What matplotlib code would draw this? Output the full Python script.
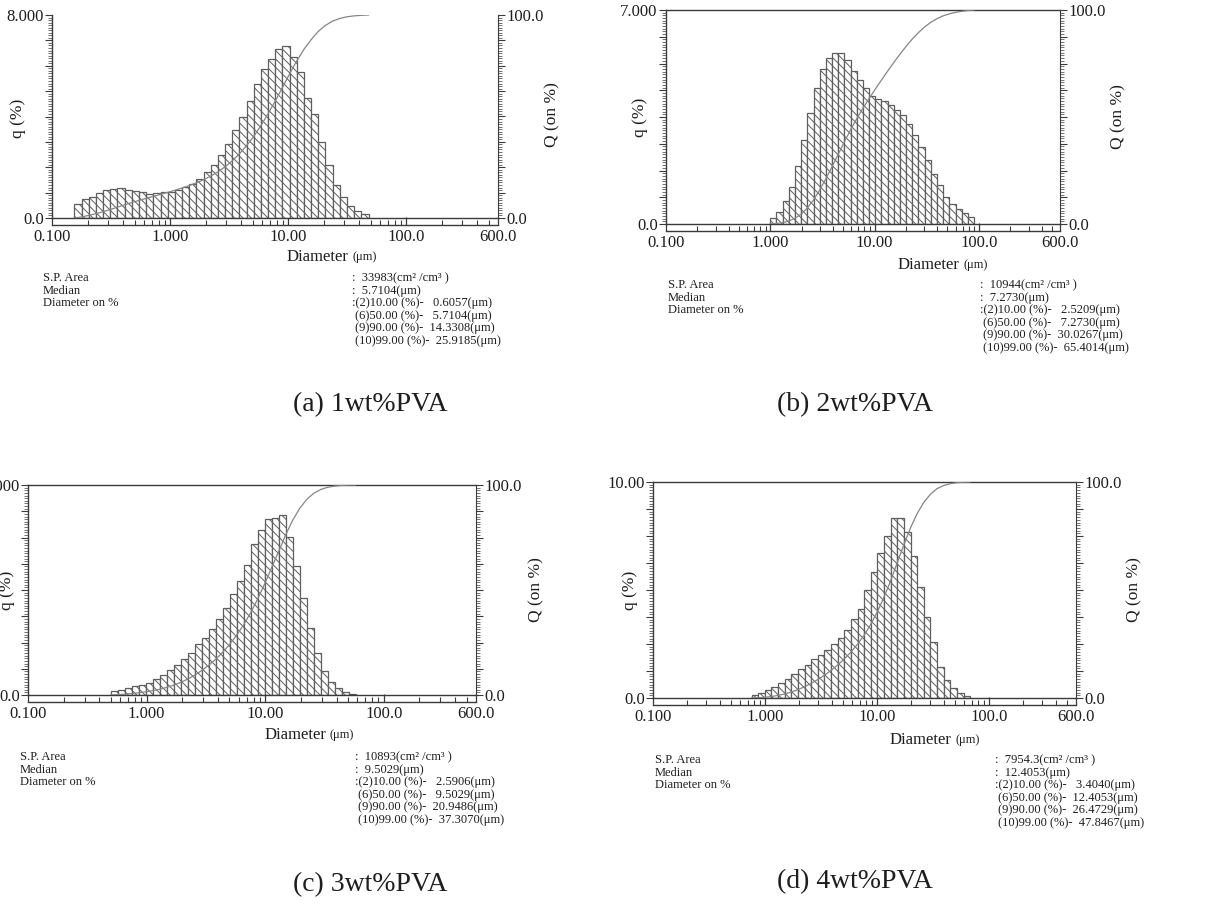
import numpy as np
import matplotlib.pyplot as plt
from matplotlib.ticker import FixedLocator, FixedFormatter, LogLocator, NullFormatter

plt.rcParams['font.family'] = ['Liberation Serif', 'DejaVu Serif']
plt.rcParams['hatch.linewidth'] = 0.7
plt.rcParams['hatch.color'] = '#5e5e5e'

W, H = 1209, 923

# q (%) of each size class, left to right
q_a = [0.55, 0.75, 0.83, 0.98, 1.09, 1.14, 1.18, 1.11, 1.05, 1.02, 0.96, 0.98, 1.01, 1.02,
       1.11, 1.21, 1.35, 1.53, 1.80, 2.10, 2.49, 2.92, 3.48, 4.00, 4.62, 5.27, 5.88, 6.26,
       6.65, 6.78, 6.36, 5.74, 4.72, 4.09, 2.98, 2.10, 1.31, 0.81, 0.46, 0.26, 0.16]
q_b = [0.21, 0.39, 0.74, 1.22, 1.91, 2.74, 3.63, 4.46, 5.08, 5.43, 5.59, 5.59, 5.37, 5.00,
       4.70, 4.46, 4.18, 4.08, 4.01, 3.90, 3.74, 3.55, 3.28, 2.92, 2.52, 2.09, 1.65, 1.27,
       0.89, 0.65, 0.48, 0.35, 0.24]
q_c = [0.17, 0.21, 0.29, 0.39, 0.43, 0.53, 0.67, 0.86, 1.07, 1.30, 1.55, 1.79, 2.19, 2.46,
       2.81, 3.24, 3.71, 4.31, 4.89, 5.57, 6.46, 7.07, 7.53, 7.57, 7.71, 6.79, 5.53, 4.14,
       2.86, 1.79, 1.03, 0.57, 0.31, 0.14, 0.04]
q_d = [0.12, 0.22, 0.35, 0.50, 0.68, 0.88, 1.10, 1.33, 1.55, 1.79, 1.97, 2.22, 2.50, 2.79,
       3.17, 3.65, 4.14, 4.99, 5.84, 6.72, 7.49, 8.34, 8.34, 7.69, 6.56, 5.15, 3.76, 2.57,
       1.45, 0.85, 0.45, 0.22, 0.10]

# diameter span (um) covered by the bars
span_a = (0.155, 48.0)
span_b = (1.0, 90.0)
span_c = (0.50, 58.0)
span_d = (0.76, 68.0)

# top of the q axis and its label
qmax_a, qmax_b, qmax_c, qmax_d = 8.0, 7.0, 9.0, 10.0
qlab_a, qlab_b, qlab_c, qlab_d = '8.000', '7.000', '9.000', '10.00'

x_ticks = [0.1, 1, 10, 100, 600]
x_labels = ['0.100', '1.000', '10.00', '100.0', '600.0']

left_rows = ['S.P. Area', 'Median', 'Diameter on %']
stats_a = [':  33983(cm² /cm³ )', ':  5.7104(μm)', ':(2)10.00 (%)-   0.6057(μm)',
           ' (6)50.00 (%)-   5.7104(μm)', ' (9)90.00 (%)-  14.3308(μm)', ' (10)99.00 (%)-  25.9185(μm)']
stats_b = [':  10944(cm² /cm³ )', ':  7.2730(μm)', ':(2)10.00 (%)-   2.5209(μm)',
           ' (6)50.00 (%)-   7.2730(μm)', ' (9)90.00 (%)-  30.0267(μm)', ' (10)99.00 (%)-  65.4014(μm)']
stats_c = [':  10893(cm² /cm³ )', ':  9.5029(μm)', ':(2)10.00 (%)-   2.5906(μm)',
           ' (6)50.00 (%)-   9.5029(μm)', ' (9)90.00 (%)-  20.9486(μm)', ' (10)99.00 (%)-  37.3070(μm)']
stats_d = [':  7954.3(cm² /cm³ )', ':  12.4053(μm)', ':(2)10.00 (%)-   3.4040(μm)',
           ' (6)50.00 (%)-  12.4053(μm)', ' (9)90.00 (%)-  26.4729(μm)', ' (10)99.00 (%)-  47.8467(μm)']

captions = ['(a) 1wt%PVA', '(b) 2wt%PVA', '(c) 3wt%PVA', '(d) 4wt%PVA']

AX = '#3a3a3a'
BAR = '#5e5e5e'
TXT = '#1e1e1e'

fig = plt.figure(figsize=(W / 100, H / 100), dpi=100)


def put(x, y, s, **kw):
    # place text using pixel coordinates of the reference picture
    kw.setdefault('color', TXT)
    fig.text(x / W, 1 - y / H, s, **kw)


def panel(left, right, top, zero, q, span, qmax, qlab, show_top=True):
    ax = fig.add_axes([left / W, 1 - zero / H, (right - left) / W, (zero - top) / H])
    edges = np.geomspace(span[0], span[1], len(q) + 1)
    ax.bar(edges[:-1], q, width=np.diff(edges), align='edge', facecolor='white',
           edgecolor=BAR, hatch='\\\\\\\\', linewidth=0.9, zorder=2)
    ax.set_xscale('log')
    ax.set_xlim(0.1, 600)
    ax.set_ylim(0, qmax)
    ax.axhline(0, color=AX, lw=1.0, zorder=3, clip_on=False)

    for s in ['left', 'bottom', 'top']:
        ax.spines[s].set_color(AX)
        ax.spines[s].set_linewidth(1.0)
    ax.spines['right'].set_visible(False)
    ax.spines['top'].set_visible(show_top)
    ax.spines['bottom'].set_position(('outward', 5))

    ax.xaxis.set_major_locator(FixedLocator(x_ticks))
    ax.xaxis.set_major_formatter(FixedFormatter(x_labels))
    ax.xaxis.set_minor_locator(LogLocator(base=10, subs=np.arange(2, 10), numticks=20))
    ax.xaxis.set_minor_formatter(NullFormatter())
    ax.tick_params(axis='x', which='major', direction='in', length=6, width=0.9,
                   color=AX, labelsize=12, labelcolor=TXT, pad=3)
    ax.tick_params(axis='x', which='minor', direction='in', length=3.5, width=0.8, color=AX)

    ax.yaxis.set_major_locator(FixedLocator(np.linspace(0, qmax, 9)))
    ax.yaxis.set_major_formatter(FixedFormatter(['0.0'] + [''] * 7 + [qlab]))
    ax.yaxis.set_minor_locator(FixedLocator(np.linspace(0, qmax, 81)))
    ax.tick_params(axis='y', which='major', direction='out', length=5, width=0.8,
                   color=AX, labelsize=12, labelcolor=TXT, pad=1)
    ax.tick_params(axis='y', which='minor', direction='out', length=3, width=0.5, color=AX)

    ax2 = ax.twinx()
    Q = np.cumsum(q) / np.sum(q) * 100
    ax2.plot(edges, np.r_[0, Q], color='#858585', lw=0.9)
    ax2.set_ylim(0, 100)
    for s in ['left', 'bottom', 'top']:
        ax2.spines[s].set_visible(False)
    ax2.spines['right'].set_color(AX)
    ax2.yaxis.set_major_locator(FixedLocator(np.linspace(0, 100, 9)))
    ax2.yaxis.set_major_formatter(FixedFormatter(['0.0'] + [''] * 7 + ['100.0']))
    ax2.yaxis.set_minor_locator(FixedLocator(np.linspace(0, 100, 81)))
    ax2.tick_params(axis='y', which='major', direction='out', length=5, width=0.8,
                    color=AX, labelsize=12, labelcolor=TXT, pad=1)
    ax2.tick_params(axis='y', which='minor', direction='out', length=3, width=0.5, color=AX)
    return ax


def texts(x_left, x_right, y0, stats, dy=12.6):
    for i, s in enumerate(left_rows):
        put(x_left, y0 + i * dy, s, fontsize=9, va='center')
    for i, s in enumerate(stats):
        put(x_right, y0 + i * dy, s, fontsize=9, va='center')


# (a)
panel(52, 498, 15, 218, q_a, span_a, qmax_a, qlab_a, show_top=False)
put(18, 118, 'q (%)', fontsize=12.5, rotation=90, ha='center', va='center')
put(552, 115, 'Q (on %)', fontsize=12.5, rotation=90, ha='center', va='center')
put(287, 257, 'Diameter', fontsize=12, va='center')
put(352, 257, '(μm)', fontsize=9, va='center')
texts(43, 352, 278, stats_a)
put(370, 405, captions[0], fontsize=20, ha='center', va='center')

# (b)
panel(666, 1060, 10, 224, q_b, span_b, qmax_b, qlab_b)
put(640, 117, 'q (%)', fontsize=12.5, rotation=90, ha='center', va='center')
put(1118, 117, 'Q (on %)', fontsize=12.5, rotation=90, ha='center', va='center')
put(898, 265, 'Diameter', fontsize=12, va='center')
put(963, 265, '(μm)', fontsize=9, va='center')
texts(668, 980, 285, stats_b)
put(855, 405, captions[1], fontsize=20, ha='center', va='center')

# (c)
panel(28, 476, 485, 695, q_c, span_c, qmax_c, qlab_c)
put(7, 590, 'q (%)', fontsize=12.5, rotation=90, ha='center', va='center')
put(536, 590, 'Q (on %)', fontsize=12.5, rotation=90, ha='center', va='center')
put(265, 735, 'Diameter', fontsize=12, va='center')
put(330, 735, '(μm)', fontsize=9, va='center')
texts(20, 355, 757, stats_c)
put(370, 885, captions[2], fontsize=20, ha='center', va='center')

# (d)
panel(653, 1076, 482, 698, q_d, span_d, qmax_d, qlab_d)
put(630, 590, 'q (%)', fontsize=12.5, rotation=90, ha='center', va='center')
put(1134, 590, 'Q (on %)', fontsize=12.5, rotation=90, ha='center', va='center')
put(890, 740, 'Diameter', fontsize=12, va='center')
put(955, 740, '(μm)', fontsize=9, va='center')
texts(655, 995, 760, stats_d)
put(855, 882, captions[3], fontsize=20, ha='center', va='center')

fig.savefig('out.png', dpi=100, facecolor='white')
